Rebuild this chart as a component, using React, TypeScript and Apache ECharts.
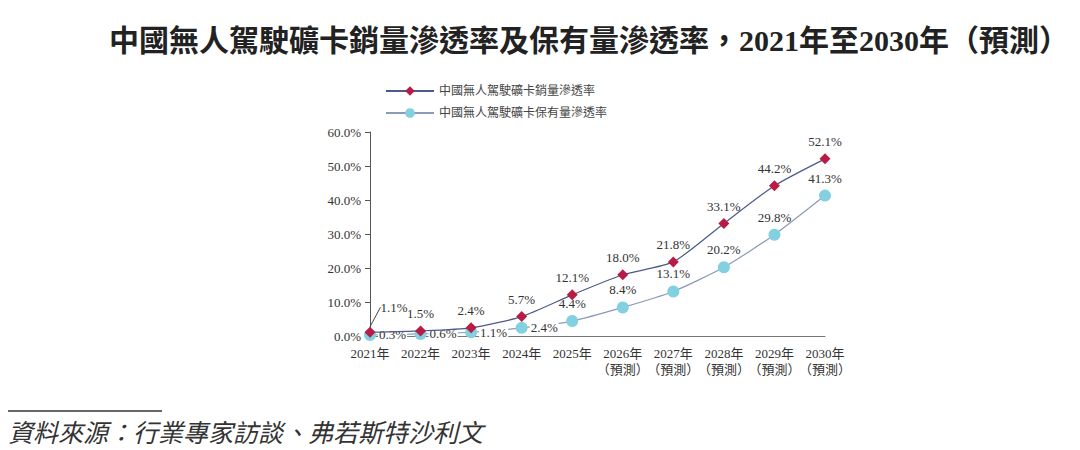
import React, { useEffect, useRef } from 'react';
import * as echarts from 'echarts';

const years = ['2021年', '2022年', '2023年', '2024年', '2025年', '2026年\n（預測）', '2027年\n（預測）', '2028年\n（預測）', '2029年\n（預測）', '2030年\n（預測）'];
const salesRate = [1.1, 1.5, 2.4, 5.7, 12.1, 18.0, 21.8, 33.1, 44.2, 52.1];
const holdingRate = [0.3, 0.6, 1.1, 2.4, 4.4, 8.4, 13.1, 20.2, 29.8, 41.3];
const seriesNames = ['中國無人駕駛礦卡銷量滲透率', '中國無人駕駛礦卡保有量滲透率'];

const serif = '"Liberation Serif", "Noto Sans CJK TC", serif';

const App: React.FC = () => {
    const chartRef = useRef<HTMLDivElement>(null);

    useEffect(() => {
        if (!chartRef.current) return;
        const chart = echarts.init(chartRef.current, undefined, { renderer: 'svg' });

        const labelBase = {
            show: true,
            position: 'top',
            distance: 5,
            fontFamily: serif,
            fontSize: 13,
            color: '#333',
            formatter: (p: any) => p.value.toFixed(1) + '%'
        };

        const option = {
            animation: false,
            backgroundColor: '#ffffff',
            title: {
                text: '中國無人駕駛礦卡銷量滲透率及保有量滲透率，2021年至2030年（預測）',
                left: 104,
                top: 20,
                textStyle: {
                    fontFamily: '"Liberation Serif", "Noto Sans CJK TC", serif',
                    fontWeight: 'bold',
                    fontSize: 30,
                    color: '#222'
                }
            },
            legend: {
                orient: 'vertical',
                left: 380,
                top: 80,
                itemWidth: 48,
                itemHeight: 12,
                itemGap: 10,
                textStyle: { fontFamily: serif, fontSize: 12, color: '#444' },
                data: seriesNames
            },
            grid: { left: 370, right: 255, top: 132, bottom: 114, containLabel: false },
            xAxis: {
                type: 'category',
                data: years,
                boundaryGap: false,
                axisLine: { lineStyle: { color: '#777', width: 1 } },
                axisTick: { show: false },
                axisLabel: {
                    fontFamily: serif,
                    fontSize: 13,
                    color: '#333',
                    margin: 9,
                    lineHeight: 16,
                    interval: 0
                }
            },
            yAxis: {
                type: 'value',
                min: 0,
                max: 60,
                interval: 10,
                splitLine: { show: false },
                axisLine: { show: true, lineStyle: { color: '#555' } },
                axisTick: { show: true, length: 5, lineStyle: { color: '#555' } },
                axisLabel: {
                    fontFamily: serif,
                    fontSize: 13,
                    color: '#333',
                    margin: 9,
                    formatter: (v: number) => v.toFixed(1) + '%'
                }
            },
            series: [
                {
                    name: seriesNames[0],
                    type: 'line',
                    data: salesRate.map((v, i) => ({
                        value: v,
                        labelLine: { show: i === 0, lineStyle: { color: '#444', width: 1 } }
                    })),
                    smooth: 0.2,
                    symbol: 'diamond',
                    symbolSize: 11,
                    itemStyle: { color: '#b81c45' },
                    lineStyle: { color: '#4a5a8a', width: 1.2 },
                    label: labelBase,
                    labelLine: { show: false },
                    labelLayout: (p: any) => (p.dataIndex === 0 ? { dx: 24, dy: -8 } : {}),
                    z: 3
                },
                {
                    name: seriesNames[1],
                    type: 'line',
                    data: holdingRate.map((v, i) => ({
                        value: v,
                        label: i < 4 ? { position: 'right', distance: 2, backgroundColor: '#fff', padding: [0, 1] } : {}
                    })),
                    smooth: 0.2,
                    symbol: 'circle',
                    symbolSize: 12,
                    itemStyle: { color: '#82d0e0' },
                    lineStyle: { color: '#8a9ab8', width: 1.2 },
                    label: labelBase,
                    z: 2
                }
            ],
            graphic: [
                {
                    type: 'line',
                    shape: { x1: 8, y1: 411, x2: 162, y2: 411 },
                    style: { stroke: '#666', lineWidth: 2 }
                },
                {
                    type: 'text',
                    left: 8,
                    top: 418,
                    style: {
                        text: '資料來源：行業專家訪談、弗若斯特沙利文',
                        font: 'italic 25px "Noto Sans CJK TC", sans-serif',
                        fill: '#333'
                    }
                }
            ]
        };

        chart.setOption(option);
        return () => {
            chart.dispose();
        };
    }, []);

    return (
        <div style={{ position: 'fixed', left: 0, top: 0, width: 1080, height: 450 }}>
            <div ref={chartRef} style={{ width: '1080px', height: '450px' }}></div>
        </div>
    );
};

export default App;
